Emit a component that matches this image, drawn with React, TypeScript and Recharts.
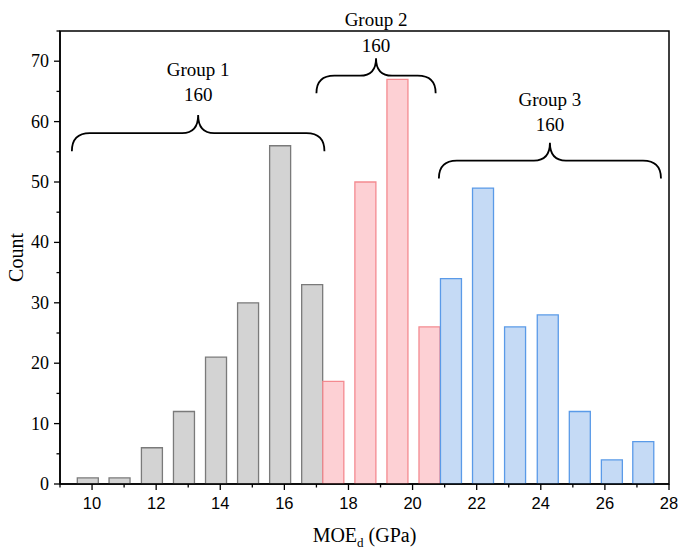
import React from 'react';
import { ComposedChart, Bar, Cell, XAxis, YAxis, ReferenceArea, ReferenceDot, Label } from 'recharts';

// Bin centres (MOEd, GPa) and counts for each group
const group1Centers = [9.87, 10.86, 11.87, 12.87, 13.87, 14.87, 15.87, 16.87];
const group1Counts = [1, 1, 6, 12, 21, 30, 56, 33];
const group2Centers = [17.53, 18.53, 19.53, 20.53];
const group2Counts = [17, 50, 67, 26];
const group3Centers = [21.2, 22.2, 23.2, 24.22, 25.22, 26.22, 27.2];
const group3Counts = [34, 49, 26, 28, 12, 4, 7];

const groupNames = ['Group 1', 'Group 2', 'Group 3'];
const xTicks = [9, 10, 11, 12, 13, 14, 15, 16, 17, 18, 19, 20, 21, 22, 23, 24, 25, 26, 27, 28];
const yTicks = [0, 5, 10, 15, 20, 25, 30, 35, 40, 45, 50, 55, 60, 65, 70, 75];

// Annotation braces (data coordinates): x extent, tip y, peak y, label y's
const braceX1 = [9.37, 17.0, 20.82];
const braceX2 = [17.25, 20.72, 27.75];
const braceTipY = [55.1, 64.7, 50.6];
const bracePeakY = [61.1, 70.5, 56.5];
const nameY = [68.6, 76.9, 63.7];
const totalY = [64.5, 72.6, 59.6];

const STYLES = [
  { fill: '#d3d3d3', stroke: '#7a7a7a' },
  { fill: '#fdd0d4', stroke: '#f48a90' },
  { fill: '#c5daf5', stroke: '#5a9ae8' },
];

const groups = [
  { centers: group1Centers, counts: group1Counts },
  { centers: group2Centers, counts: group2Counts },
  { centers: group3Centers, counts: group3Counts },
];

const data = groups.flatMap((g, gi) =>
  g.centers.map((c, i) => ({ x: c, count: g.counts[i], group: gi }))
);

const totals = groups.map((g) => g.counts.reduce((a, b) => a + b, 0));

const SERIF = '"Liberation Serif", "Times New Roman", serif';
const SANS = '"Liberation Sans", Arial, sans-serif';

const BraceShape = (props: any) => {
  const { x, y, width, height } = props;
  const x0 = x;
  const x1 = x + width;
  const yt = y; // peak
  const yb = y + height; // tips
  const ym = (yt + yb) / 2;
  const xc = (x0 + x1) / 2;
  const r = 18;
  const r2 = 16;
  const d = `M ${x0} ${yb} Q ${x0} ${ym} ${x0 + r} ${ym} L ${xc - r2} ${ym} Q ${xc} ${ym} ${xc} ${yt} Q ${xc} ${ym} ${xc + r2} ${ym} L ${x1 - r} ${ym} Q ${x1} ${ym} ${x1} ${yb}`;
  return <path d={d} fill="none" stroke="#000" strokeWidth={1.8} />;
};

const XTick = (props: any) => {
  const { x, y, payload } = props;
  const v = payload.value;
  const major = v % 2 === 0;
  return (
    <g>
      <line x1={x} x2={x} y1={y} y2={y + (major ? 6 : 3.5)} stroke="#000" strokeWidth={1.3} />
      {major && (
        <text x={x} y={y + 25} textAnchor="middle" fontFamily={SANS} fontSize={16.5} fill="#000">
          {v}
        </text>
      )}
    </g>
  );
};

const YTick = (props: any) => {
  const { x, y, payload } = props;
  const v = payload.value;
  const major = v % 10 === 0;
  return (
    <g>
      <line x1={x} x2={x - (major ? 6 : 3.5)} y1={y} y2={y} stroke="#000" strokeWidth={1.3} />
      {major && (
        <text x={x - 11} y={y + 6} textAnchor="end" fontFamily={SERIF} fontSize={18} fill="#000">
          {v}
        </text>
      )}
    </g>
  );
};

const XTitle = (props: any) => {
  const { viewBox } = props;
  const cx = viewBox.x + viewBox.width / 2;
  return (
    <text x={cx} y={viewBox.y + 58} textAnchor="middle" fontFamily={SERIF} fontSize={20} fill="#000">
      MOE
      <tspan fontSize={13} dy={5}>d</tspan>
      <tspan dy={-5}> (GPa)</tspan>
    </text>
  );
};

const YTitle = (props: any) => {
  const { viewBox } = props;
  const cy = viewBox.y + viewBox.height / 2;
  const tx = 23;
  return (
    <text x={tx} y={cy} transform={`rotate(-90 ${tx} ${cy})`} textAnchor="middle" fontFamily={SERIF} fontSize={20} fill="#000">
      Count
    </text>
  );
};

const textLabel = (value: string) => (p: any) => {
  const { viewBox } = p;
  const cx = viewBox.x + viewBox.width / 2;
  const cy = viewBox.y + viewBox.height / 2;
  return (
    <text x={cx} y={cy + 6.5} textAnchor="middle" fontFamily={SERIF} fontSize={19} fill="#000">
      {value}
    </text>
  );
};

export default function App() {
  return (
    <div style={{ position: 'absolute', left: 0, top: 0, width: 678, height: 549, background: '#fff' }}>
      <ComposedChart
        width={678}
        height={549}
        data={data}
        margin={{ top: 31, right: 9, bottom: 64, left: 59 }}
      >
        <XAxis
          dataKey="x"
          type="number"
          domain={[9, 28]}
          ticks={xTicks}
          interval={0}
          tickSize={0}
          tickMargin={0}
          tickLine={false}
          tick={<XTick />}
          height={1}
          axisLine={{ stroke: '#000', strokeWidth: 1.5 }}
          allowDataOverflow
        >
          <Label content={<XTitle />} />
        </XAxis>
        <YAxis
          type="number"
          domain={[0, 75]}
          ticks={yTicks}
          interval={0}
          tickSize={0}
          tickMargin={0}
          tickLine={false}
          tick={<YTick />}
          width={1}
          axisLine={{ stroke: '#000', strokeWidth: 1.5 }}
          allowDataOverflow
        >
          <Label content={<YTitle />} />
        </YAxis>
        <ReferenceArea x1={9} x2={28} y1={0} y2={75} fill="none" stroke="#000" strokeWidth={1.5} ifOverflow="visible" />
        <Bar dataKey="count" barSize={21} isAnimationActive={false}>
          {data.map((d, i) => (
            <Cell key={i} fill={STYLES[d.group].fill} stroke={STYLES[d.group].stroke} strokeWidth={1.3} />
          ))}
        </Bar>
        {groupNames.map((name, gi) => (
          <ReferenceArea
            key={`b${gi}`}
            x1={braceX1[gi]}
            x2={braceX2[gi]}
            y1={braceTipY[gi]}
            y2={bracePeakY[gi]}
            ifOverflow="visible"
            shape={<BraceShape />}
          />
        ))}
        {groupNames.map((name, gi) => (
          <ReferenceDot
            key={`n${gi}`}
            x={(braceX1[gi] + braceX2[gi]) / 2}
            y={nameY[gi]}
            r={0}
            ifOverflow="visible"
            fill="none"
            stroke="none"
            label={{ content: textLabel(name) } as any}
          />
        ))}
        {groupNames.map((name, gi) => (
          <ReferenceDot
            key={`t${gi}`}
            x={(braceX1[gi] + braceX2[gi]) / 2}
            y={totalY[gi]}
            r={0}
            ifOverflow="visible"
            fill="none"
            stroke="none"
            label={{ content: textLabel(String(totals[gi])) } as any}
          />
        ))}
      </ComposedChart>
    </div>
  );
}
